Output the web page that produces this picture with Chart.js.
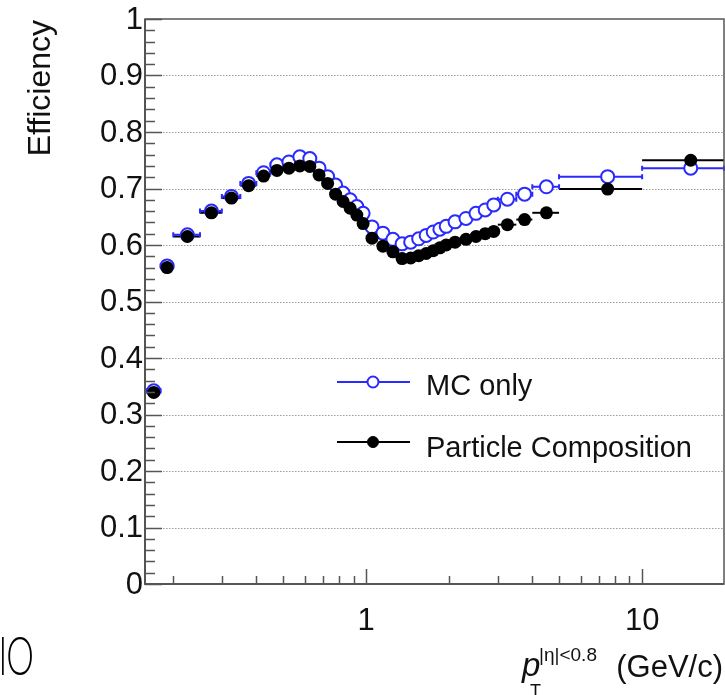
<!DOCTYPE html>
<html>
<head>
<meta charset="utf-8">
<script src="https://cdn.jsdelivr.net/npm/chart.js@4/dist/chart.umd.min.js"></script>
<style>
  html, body { margin: 0; padding: 0; background: #fff; }
  #wrap { position: relative; width: 725px; height: 695px; overflow: hidden; }
  #effChart { position: absolute; left: 0; top: 0; }
</style>
</head>
<body>
<div id="wrap">
  <canvas id="effChart" width="725" height="695"></canvas>
</div>
<script>
// pT bins (centre, low edge, high edge) in GeV/c
const ptCenter = [0.17, 0.19, 0.225, 0.275, 0.325, 0.375, 0.425, 0.475, 0.525, 0.575,
                  0.625, 0.675, 0.725, 0.775, 0.825, 0.875, 0.925, 0.975, 1.05, 1.15,
                  1.25, 1.35, 1.45, 1.55, 1.65, 1.75, 1.85, 1.95, 2.1, 2.3,
                  2.5, 2.7, 2.9, 3.25, 3.75, 4.5, 7.5, 15];
const ptLow    = [0.16, 0.18, 0.2, 0.25, 0.3, 0.35, 0.4, 0.45, 0.5, 0.55,
                  0.6, 0.65, 0.7, 0.75, 0.8, 0.85, 0.9, 0.95, 1.0, 1.1,
                  1.2, 1.3, 1.4, 1.5, 1.6, 1.7, 1.8, 1.9, 2.0, 2.2,
                  2.4, 2.6, 2.8, 3.0, 3.5, 4.0, 5.0, 10];
const ptHigh   = [0.18, 0.2, 0.25, 0.3, 0.35, 0.4, 0.45, 0.5, 0.55, 0.6,
                  0.65, 0.7, 0.75, 0.8, 0.85, 0.9, 0.95, 1.0, 1.1, 1.2,
                  1.3, 1.4, 1.5, 1.6, 1.7, 1.8, 1.9, 2.0, 2.2, 2.4,
                  2.6, 2.8, 3.0, 3.5, 4.0, 5.0, 10, 20];

// efficiencies
const effMC   = [0.342, 0.563, 0.618, 0.660, 0.686, 0.709, 0.728, 0.742, 0.747, 0.756,
                 0.753, 0.736, 0.721, 0.706, 0.692, 0.680, 0.668, 0.656, 0.632, 0.621,
                 0.610, 0.602, 0.605, 0.611, 0.617, 0.623, 0.628, 0.633, 0.641, 0.647,
                 0.656, 0.662, 0.671, 0.681, 0.690, 0.703, 0.721, 0.736];
const effComp = [0.339, 0.560, 0.615, 0.657, 0.683, 0.705, 0.722, 0.732, 0.736, 0.740,
                 0.739, 0.724, 0.709, 0.690, 0.677, 0.665, 0.653, 0.638, 0.612, 0.598,
                 0.588, 0.576, 0.577, 0.581, 0.585, 0.590, 0.595, 0.600, 0.605, 0.610,
                 0.615, 0.620, 0.624, 0.636, 0.645, 0.657, 0.699, 0.750];

// axis ticks
const yTickLabels = ["0", "0.1", "0.2", "0.3", "0.4", "0.5", "0.6", "0.7", "0.8", "0.9", "1"];
const xMajorTicks = [1, 10];
const xTickLabels = ["1", "10"];
const xMinorTicks = [0.2, 0.3, 0.4, 0.5, 0.6, 0.7, 0.8, 0.9, 2, 3, 4, 5, 6, 7, 8, 9];

const BLUE = "#2a2aff";
const FONT = "'Liberation Sans', Arial, sans-serif";

function toPoints(vals) {
    return ptCenter.map((x, i) => ({ x: x, y: vals[i] }));
}

// ROOT-like frame, ticks, grid, error bars and legend
const rootStyle = {
    id: "rootStyle",
    beforeDatasetsDraw(chart) {
        const ctx = chart.ctx;
        const a = chart.chartArea;
        const xs = chart.scales.x, ys = chart.scales.y;

        // dotted horizontal grid
        ctx.save();
        ctx.strokeStyle = "#9a9a9a";
        ctx.lineWidth = 1;
        ctx.setLineDash([1.5, 1.5]);
        for (let i = 1; i < yTickLabels.length - 1; i++) {
            const py = Math.round(ys.getPixelForValue(parseFloat(yTickLabels[i]))) + 0.5;
            ctx.beginPath();
            ctx.moveTo(a.left, py);
            ctx.lineTo(a.right, py);
            ctx.stroke();
        }
        ctx.restore();

        // horizontal error bars
        ctx.save();
        ctx.lineWidth = 2;
        chart.data.datasets.forEach((ds) => {
            ctx.strokeStyle = ds.borderColor;
            ds.data.forEach((p, i) => {
                const py = ys.getPixelForValue(p.y);
                const x1 = xs.getPixelForValue(ptLow[i]);
                const x2 = Math.min(xs.getPixelForValue(ptHigh[i]), a.right);
                ctx.beginPath();
                ctx.moveTo(x1, py);
                ctx.lineTo(x2, py);
                if (ds.caps) {
                    ctx.moveTo(x1, py - 2.5); ctx.lineTo(x1, py + 2.5);
                    ctx.moveTo(x2, py - 2.5); ctx.lineTo(x2, py + 2.5);
                }
                ctx.stroke();
            });
        });
        ctx.restore();
    },
    afterDatasetsDraw(chart) {
        const ctx = chart.ctx;
        const a = chart.chartArea;
        const xs = chart.scales.x, ys = chart.scales.y;

        ctx.save();
        // frame
        ctx.strokeStyle = "#555";
        ctx.lineWidth = 1.5;
        ctx.strokeRect(a.left, a.top, a.right - a.left, a.bottom - a.top);
        ctx.lineWidth = 2;
        ctx.beginPath();
        ctx.moveTo(a.left, a.top); ctx.lineTo(a.left, a.bottom); ctx.lineTo(a.right, a.bottom);
        ctx.stroke();

        // y ticks (major every 0.1, minor every 0.02)
        ctx.lineWidth = 1.5;
        ctx.beginPath();
        for (let k = 0; k <= 50; k++) {
            const py = Math.round(ys.getPixelForValue(k / 50)) + 0.5;
            const len = (k % 5 === 0) ? 17 : 10;
            ctx.moveTo(a.left, py);
            ctx.lineTo(a.left + len, py);
        }
        // x ticks
        xMajorTicks.forEach((v) => {
            const px = Math.round(xs.getPixelForValue(v)) + 0.5;
            ctx.moveTo(px, a.bottom); ctx.lineTo(px, a.bottom - 15);
        });
        xMinorTicks.forEach((v) => {
            const px = Math.round(xs.getPixelForValue(v)) + 0.5;
            ctx.moveTo(px, a.bottom); ctx.lineTo(px, a.bottom - 8);
        });
        ctx.stroke();

        // tick labels
        ctx.fillStyle = "#111";
        ctx.font = "31px " + FONT;
        ctx.textAlign = "right";
        ctx.textBaseline = "middle";
        yTickLabels.forEach((t) => {
            ctx.fillText(t, a.left - 2, ys.getPixelForValue(parseFloat(t)) + 1);
        });
        ctx.textAlign = "center";
        ctx.textBaseline = "alphabetic";
        xMajorTicks.forEach((v, i) => {
            ctx.fillText(xTickLabels[i], xs.getPixelForValue(v), 630);
        });

        // y title
        ctx.save();
        ctx.translate(50, 20);
        ctx.rotate(-Math.PI / 2);
        ctx.textAlign = "right";
        ctx.font = "32px " + FONT;
        ctx.fillText("Efficiency", 0, 0);
        ctx.restore();

        // x title: p_T^{|η|<0.8} (GeV/c)
        ctx.textAlign = "left";
        ctx.font = "italic 33px " + FONT;
        ctx.fillText("p", 522, 676);
        ctx.font = "18px " + FONT;
        ctx.fillText("T", 530, 697);
        ctx.font = "19px " + FONT;
        ctx.fillText("|\u03b7|<0.8", 539, 661);
        ctx.font = "31px " + FONT;
        ctx.textAlign = "right";
        ctx.fillText("(GeV/c)", 723, 677);

        // legend
        const legend = [
            { ds: chart.data.datasets[1], y: 382, base: 395 },
            { ds: chart.data.datasets[0], y: 442, base: 457 }
        ];
        legend.forEach((e) => {
            ctx.strokeStyle = e.ds.borderColor;
            ctx.lineWidth = 2;
            ctx.beginPath();
            ctx.moveTo(337, e.y); ctx.lineTo(410, e.y);
            ctx.stroke();
            ctx.beginPath();
            ctx.arc(373, e.y, 5.5, 0, Math.PI * 2);
            ctx.fillStyle = e.ds.backgroundColor;
            ctx.fill();
            ctx.lineWidth = e.ds.borderWidth || 1;
            ctx.stroke();
            ctx.fillStyle = "#111";
            ctx.textAlign = "left";
            ctx.font = "29px " + FONT;
            ctx.fillText(e.ds.label, 426, e.base);
        });

        // cut-off text from neighbouring panel
        ctx.save();
        ctx.translate(34, 675);
        ctx.scale(0.66, 1);
        ctx.font = "300 53px Lato, sans-serif";
        ctx.textAlign = "right";
        ctx.fillStyle = "#000";
        ctx.fillText("lO", 0, 0);
        ctx.restore();

        ctx.restore();
    }
};

new Chart(document.getElementById("effChart"), {
    type: "scatter",
    data: {
        datasets: [
            {
                label: "Particle Composition",
                data: toPoints(effComp),
                pointRadius: 6.5,
                pointBorderWidth: 0,
                backgroundColor: "#000",
                borderColor: "#000",
                borderWidth: 0,
                caps: false,
                order: 1
            },
            {
                label: "MC only",
                data: toPoints(effMC),
                pointRadius: 6.5,
                pointBorderWidth: 2,
                backgroundColor: "#fff",
                borderColor: BLUE,
                borderWidth: 2,
                caps: true,
                order: 2
            }
        ]
    },
    options: {
        responsive: false,
        animation: false,
        layout: { autoPadding: false, padding: { left: 145, top: 19, right: 1, bottom: 111 } },
        plugins: { legend: { display: false }, tooltip: { enabled: false } },
        scales: {
            x: { type: "logarithmic", min: 0.158, max: 19.8, display: false },
            y: { type: "linear", min: 0, max: 1, display: false }
        }
    },
    plugins: [rootStyle]
});
</script>
</body>
</html>
